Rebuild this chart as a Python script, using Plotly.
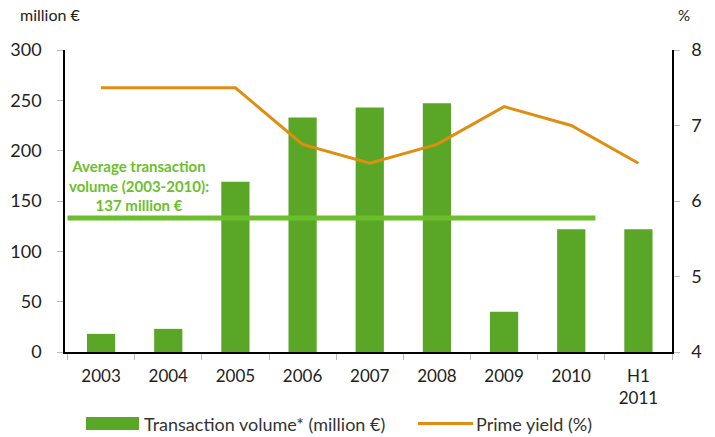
import plotly.graph_objects as go

categories = ["2003", "2004", "2005", "2006", "2007", "2008", "2009", "2010", "H1<br>2011"]
volume = [18, 23, 169, 233, 243, 247, 40, 122, 122]
prime_yield = [7.5, 7.5, 7.5, 6.75, 6.5, 6.75, 7.25, 7.0, 6.5]
average_label = 137          # value printed in the label
average_line_level = 133     # level at which the line is drawn in the picture
average_end = 7.36

FONT = "Lato"
GREEN = "#5aa626"
ORANGE = "#e08e12"
AVG = "#6cbf2c"

L, R, T, B, W, H = 65, 43, 50, 85, 715, 437
pw, ph = W - L - R, H - T - B
def px(x):
    return (x - L) / pw
def py(y):
    return (H - B - y) / ph

fig = go.Figure()
fig.add_trace(go.Bar(
    x=categories, y=volume, name="Transaction volume* (million €)",
    marker=dict(color=GREEN, line=dict(width=0)), width=0.42, yaxis="y",
    showlegend=False))
fig.add_trace(go.Scatter(
    x=categories, y=prime_yield, name="Prime yield (%)", mode="lines",
    line=dict(color=ORANGE, width=3), yaxis="y2", showlegend=False))

fig.add_shape(type="line", xref="x", yref="y", x0=-0.5, x1=average_end,
              y0=average_line_level, y1=average_line_level,
              line=dict(color=AVG, width=5))
fig.add_annotation(xref="x", yref="y", x=0.56, y=average_line_level + 2,
                   text=f"<b>Average transaction<br>volume (2003-2010):<br>{average_label} million €</b>",
                   showarrow=False, yanchor="bottom", xanchor="center",
                   font=dict(family=FONT, size=15, color=AVG))
fig.add_annotation(xref="paper", yref="paper", x=px(50), y=py(15), text="million €",
                   showarrow=False, xanchor="center", yanchor="middle",
                   font=dict(family=FONT, size=16, color="#222"))
fig.add_annotation(xref="paper", yref="paper", x=px(684), y=py(15), text="%",
                   showarrow=False, xanchor="center", yanchor="middle",
                   font=dict(family=FONT, size=15, color="#222"))

# custom legend
fig.add_shape(type="rect", xref="paper", yref="paper",
              x0=px(86), x1=px(139), y0=py(430), y1=py(417),
              fillcolor=GREEN, line=dict(width=0))
fig.add_annotation(xref="paper", yref="paper", x=px(142), y=py(424),
                   text="Transaction volume* (million €)", showarrow=False,
                   xanchor="left", yanchor="middle",
                   font=dict(family=FONT, size=18, color="#333"))
fig.add_shape(type="line", xref="paper", yref="paper",
              x0=px(418), x1=px(473), y0=py(423.5), y1=py(423.5),
              line=dict(color=ORANGE, width=3))
fig.add_annotation(xref="paper", yref="paper", x=px(474), y=py(424),
                   text="Prime yield (%)", showarrow=False,
                   xanchor="left", yanchor="middle",
                   font=dict(family=FONT, size=18, color="#333"))

fig.update_layout(
    width=W, height=H,
    margin=dict(l=L, r=R, t=T, b=B, autoexpand=False),
    plot_bgcolor="white", paper_bgcolor="white",
    font=dict(family=FONT, size=16, color="#222"),
    showlegend=False,
    xaxis=dict(showline=True, linecolor="black", linewidth=1.5,
               ticks="outside", tickcolor="#bbb", ticklen=6,
               tickson="boundaries", showgrid=False, ticklabelstandoff=8,
               tickfont=dict(size=17)),
    yaxis=dict(range=[0, 300], dtick=50, showline=True, linecolor="black", linewidth=1.5,
               ticks="outside", tickcolor="#bbb", ticklen=6, showgrid=False,
               zeroline=False, ticklabelstandoff=12, tickfont=dict(size=18)),
    yaxis2=dict(range=[4, 8], dtick=1, overlaying="y", side="right",
                showline=True, linecolor="black", linewidth=1.5,
                ticks="outside", tickcolor="#bbb", ticklen=6, showgrid=False,
                zeroline=False, ticklabelstandoff=8, tickfont=dict(size=18)),
)

fig.write_html("out.html")
